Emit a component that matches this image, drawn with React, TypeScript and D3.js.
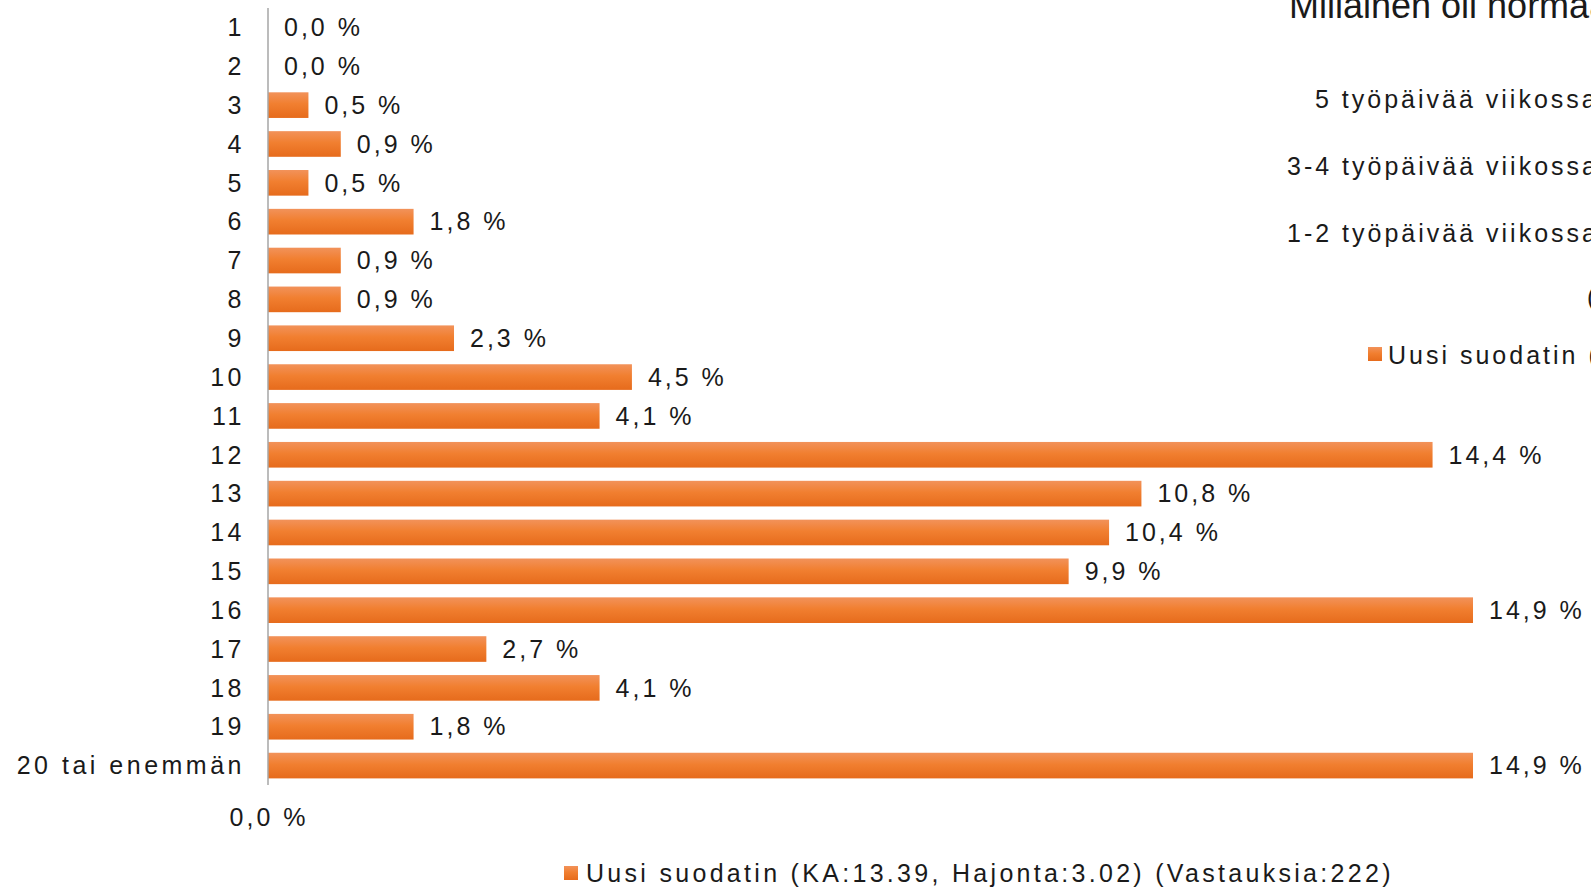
import React from 'react';
import * as d3 from 'd3';

const categories = ['1', '2', '3', '4', '5', '6', '7', '8', '9', '10', '11', '12', '13', '14', '15', '16', '17', '18', '19', '20 tai enemmän'];
const values = [0.0, 0.0, 0.5, 0.9, 0.5, 1.8, 0.9, 0.9, 2.3, 4.5, 4.1, 14.4, 10.8, 10.4, 9.9, 14.9, 2.7, 4.1, 1.8, 14.9];
const xTickLabels = ['0,0 %'];
const seriesLabel = 'Uusi suodatin (KA:13.39, Hajonta:3.02) (Vastauksia:222)';

// fragments of the neighbouring chart that overlap on the right
const otherTitle = 'Millainen oli normaali työviikkosi';
const otherCategories = ['5 työpäivää viikossa', '3-4 työpäivää viikossa', '1-2 työpäivää viikossa', '('];
const otherLegend = 'Uusi suodatin (KA:1.2)';

const W = 1591;
const H = 887;
const FONT = '"Liberation Sans", Arial, sans-serif';
const INK = '#1a1a1a';

const fmt = (v: number) => v.toFixed(1).replace('.', ',') + ' %';

export default function App() {
  const x = d3.scaleLinear().domain([0, 14.9]).range([268, 1473]);
  const y = d3.scaleBand<string>().domain(categories).range([8, 785]).paddingInner(0.34).paddingOuter(0.17);
  const bw = y.bandwidth();

  return (
    <svg width={W} height={H} style={{ position: 'absolute', left: 0, top: 0, display: 'block', background: '#fff' }} fontFamily={FONT}>
      <defs>
        <linearGradient id="barFill" x1="0" y1="0" x2="0" y2="1">
          <stop offset="0%" stopColor="#f2925a" />
          <stop offset="45%" stopColor="#f17f30" />
          <stop offset="100%" stopColor="#e66b1c" />
        </linearGradient>
      </defs>

      {/* other chart fragments */}
      <text x={1289} y={18} fontSize={36} fill={INK}>{otherTitle}</text>
      {otherCategories.map((c, i) => (
        <text key={c} x={i === 0 ? 1315 : i === 3 ? 1587 : 1287} y={[108, 175, 242, 306][i]} fontSize={25} letterSpacing={3} fill={INK}>{c}</text>
      ))}
      <rect x={1368} y={347} width={14} height={14} fill="url(#barFill)" />
      <text x={1388} y={364} fontSize={25} letterSpacing={3} fill={INK}>{otherLegend}</text>

      {/* bars */}
      {values.map((v, i) => (
        <rect key={categories[i]} x={x(0)} y={y(categories[i])} width={x(v) - x(0)} height={bw} fill="url(#barFill)" />
      ))}

      {/* axis line */}
      <line x1={x(0)} x2={x(0)} y1={8} y2={785} stroke="#a6a6a6" strokeWidth={1.5} />

      {/* category labels */}
      {categories.map((c) => (
        <text key={c} x={245} y={(y(c) as number) + bw / 2} dy="0.35em" textAnchor="end" fontSize={25} letterSpacing={3.5} fill={INK}>{c}</text>
      ))}

      {/* value labels */}
      {values.map((v, i) => (
        <text key={categories[i]} x={x(v) + 16} y={(y(categories[i]) as number) + bw / 2} dy="0.35em" fontSize={25} letterSpacing={3} fill={INK}>{fmt(v)}</text>
      ))}

      {/* x tick */}
      {xTickLabels.map((t) => (
        <text key={t} x={x(0) + 1} y={826} textAnchor="middle" fontSize={25} letterSpacing={3} fill={INK}>{t}</text>
      ))}

      {/* legend */}
      <rect x={564} y={866} width={14} height={14} fill="url(#barFill)" />
      <text x={586} y={882} fontSize={25} letterSpacing={3.3} fill={INK}>{seriesLabel}</text>
    </svg>
  );
}
